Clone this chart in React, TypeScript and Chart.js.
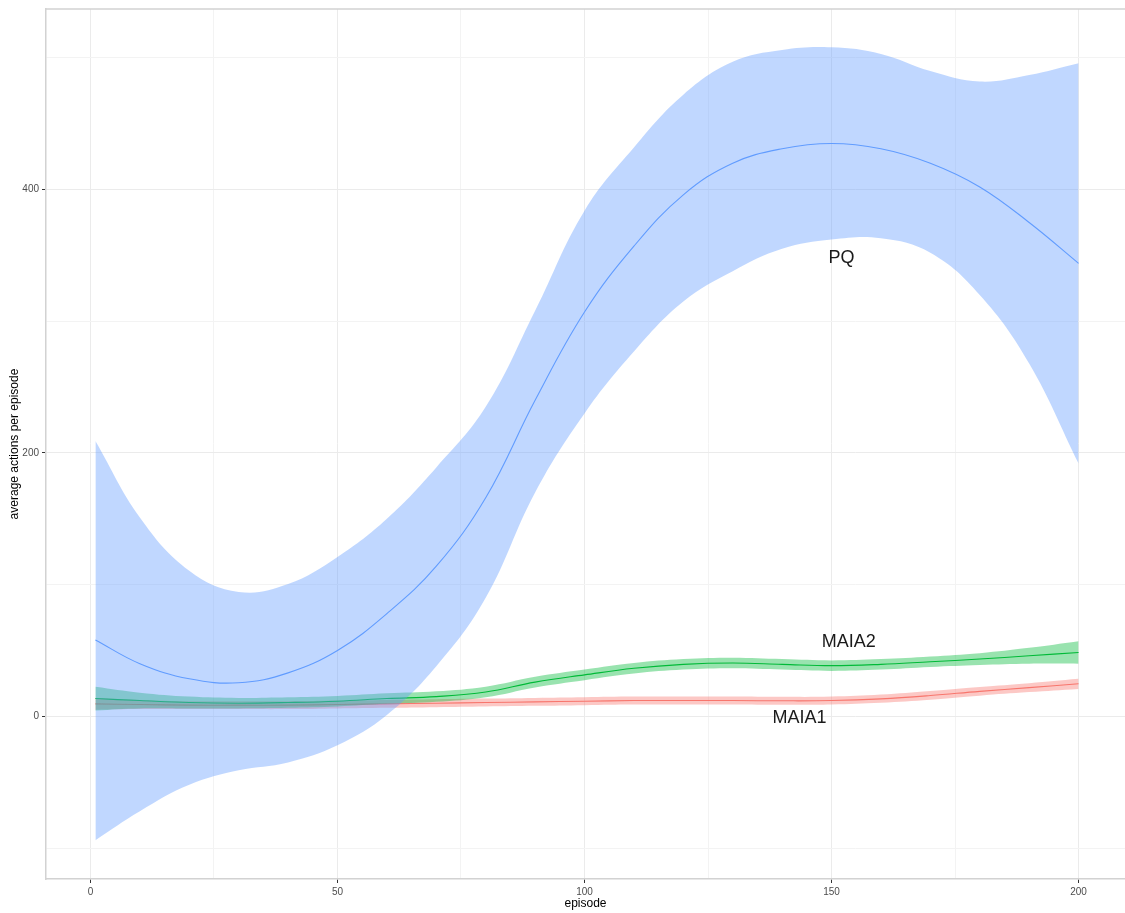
import React, { useEffect, useRef } from 'react';
import { Chart, registerables } from 'chart.js';

Chart.register(...registerables);

const episodes = [1, 10, 20, 30, 40, 50, 60, 70, 80, 90, 100, 110, 120, 130, 140, 150, 160, 170, 180, 190, 200];

const pqMean = [58, 40, 28.5, 25.5, 33, 50, 78, 114, 166, 240, 307, 357, 396, 420, 431, 435, 431, 420, 402, 375, 344];
const pqUpper = [209, 151, 110.5, 94.5, 100.5, 121, 150, 189, 235, 308, 384, 432, 472, 497, 506, 508, 503, 490, 482, 487, 496];
const pqLower = [-94, -72, -52, -41, -35, -22, 1, 38, 90, 170, 230, 277, 315, 338, 355, 362, 363, 352, 320, 268, 192];

const maia2Mean = [13.5, 12, 10.5, 10, 10.5, 11.5, 13.5, 15, 18.5, 26, 31.5, 36.5, 39.5, 40.5, 39.5, 38.5, 39.5, 41.5, 43.5, 46, 48.5];
const maia2Upper = [22.5, 18, 15, 14, 14.5, 15.5, 17.5, 19, 22.5, 30, 35.5, 40.5, 43.5, 44.5, 43.5, 42.5, 43.5, 45.5, 48, 52, 57];
const maia2Lower = [4.5, 6, 6, 6, 6.5, 7.5, 9.5, 11, 14.5, 22, 27.5, 32.5, 35.5, 36.5, 35.5, 34.5, 35.5, 37.5, 39, 40, 40];

const maia1Mean = [9.5, 9, 8.5, 8.5, 8.5, 9, 9.5, 10, 10.5, 11, 11.5, 12, 12, 12, 11.8, 12, 13.3, 15.8, 19, 21.8, 24.7];
const maia1Upper = [14, 12.5, 11.5, 11.5, 11.5, 12, 12.5, 13, 13.5, 14, 14.5, 15, 15, 15, 14.8, 15, 16.5, 19.2, 22.3, 25.2, 28.5];
const maia1Lower = [5, 5.5, 5.5, 5.5, 5.5, 6, 6.5, 7, 7.5, 8, 8.5, 9, 9, 9, 8.8, 9, 10.3, 12.6, 15.7, 18.4, 20.8];

const xGridValues = [0, 25, 50, 75, 100, 125, 150, 175, 200];
const xLabelledTicks = [0, 50, 100, 150, 200];
const yGridValues = [-100, 0, 100, 200, 300, 400, 500];
const yLabelledTicks = [0, 200, 400];

const seriesNames = ['MAIA1', 'MAIA2', 'PQ'];
const annotationTexts = ['PQ', 'MAIA2', 'MAIA1'];
const annotationX = [152, 153.5, 143.5];
const annotationY = [348, 56.5, -1.5];

const FONT = "'Liberation Sans', Arial, Helvetica, sans-serif";

function pts(ys: number[]) {
  return episodes.map((x, i) => ({ x, y: ys[i] }));
}

export default function App() {
  const canvasRef = useRef<HTMLCanvasElement | null>(null);

  useEffect(() => {
    if (!canvasRef.current) return;
    Chart.defaults.font.family = FONT;

    const series = [
      { name: seriesNames[0], color: '#F8766D', fill: 'rgba(248,118,109,0.4)', mean: maia1Mean, up: maia1Upper, lo: maia1Lower },
      { name: seriesNames[1], color: '#00BA38', fill: 'rgba(0,186,56,0.4)', mean: maia2Mean, up: maia2Upper, lo: maia2Lower },
      { name: seriesNames[2], color: '#619CFF', fill: 'rgba(97,156,255,0.4)', mean: pqMean, up: pqUpper, lo: pqLower },
    ];

    const datasets: any[] = [];
    let order = 100;
    series.forEach((s) => {
      datasets.push({
        label: s.name + ' upper',
        data: pts(s.up),
        borderWidth: 0,
        pointRadius: 0,
        backgroundColor: s.fill,
        fill: '+1',
        tension: 0.4,
        order: order--,
      });
      datasets.push({
        label: s.name + ' lower',
        data: pts(s.lo),
        borderWidth: 0,
        pointRadius: 0,
        fill: false,
        tension: 0.4,
        order: order--,
      });
      datasets.push({
        label: s.name,
        data: pts(s.mean),
        borderColor: s.color,
        borderWidth: 1.1,
        pointRadius: 0,
        fill: false,
        tension: 0.4,
        order: order--,
      });
    });

    const frameAndLabels = {
      id: 'frameAndLabels',
      afterDatasetsDraw(chart: any) {
        const { ctx, scales } = chart;
        ctx.save();
        ctx.fillStyle = '#1a1a1a';
        ctx.font = `18px ${FONT}`;
        ctx.textAlign = 'center';
        ctx.textBaseline = 'middle';
        annotationTexts.forEach((t, i) => {
          ctx.fillText(t, scales.x.getPixelForValue(annotationX[i]), scales.y.getPixelForValue(annotationY[i]));
        });
        ctx.restore();
      },
      afterDraw(chart: any) {
        const { ctx, chartArea } = chart;
        ctx.save();
        ctx.strokeStyle = '#D2D2D2';
        ctx.lineWidth = 1.5;
        ctx.beginPath();
        ctx.moveTo(chartArea.left, chartArea.top);
        ctx.lineTo(chartArea.right, chartArea.top);
        ctx.stroke();
        ctx.restore();
      },
    };

    const chart = new Chart(canvasRef.current, {
      type: 'line',
      data: { datasets },
      options: {
        animation: false,
        responsive: false,
        maintainAspectRatio: false,
        layout: { padding: { top: 7, right: 0, left: 0, bottom: 0 } },
        plugins: {
          legend: { display: false },
          tooltip: { enabled: false },
          filler: { propagate: false },
        },
        scales: {
          x: {
            type: 'linear',
            min: -9.0,
            max: 209.4,
            afterBuildTicks: (scale: any) => {
              scale.ticks = xGridValues.map((v) => ({ value: v }));
            },
            afterFit: (scale: any) => {
              scale.height = 34;
            },
            ticks: {
              autoSkip: false,
              maxRotation: 0,
              padding: 3,
              color: '#4D4D4D',
              font: { size: 10, family: FONT },
              callback: (v: any) => (xLabelledTicks.includes(Number(v)) ? String(v) : ''),
            },
            grid: {
              color: (c: any) => (c.tick && xLabelledTicks.includes(c.tick.value) ? '#EBEBEB' : '#F3F3F3'),
              lineWidth: 1,
              tickLength: 4,
              tickColor: (c: any) => (c.tick && xLabelledTicks.includes(c.tick.value) ? '#333333' : 'rgba(0,0,0,0)'),
            },
            border: { display: true, color: '#D2D2D2', width: 1.5 },
            title: {
              display: true,
              text: 'episode',
              color: '#000000',
              font: { size: 12, family: FONT },
              padding: { top: 0, bottom: 2 },
            },
          },
          y: {
            type: 'linear',
            min: -123.5,
            max: 537.1,
            afterBuildTicks: (scale: any) => {
              scale.ticks = yGridValues.map((v) => ({ value: v }));
            },
            afterFit: (scale: any) => {
              scale.width = 46;
            },
            ticks: {
              autoSkip: false,
              padding: 3,
              color: '#4D4D4D',
              font: { size: 10, family: FONT },
              callback: (v: any) => (yLabelledTicks.includes(Number(v)) ? String(v) : ''),
            },
            grid: {
              color: (c: any) => (c.tick && yLabelledTicks.includes(c.tick.value) ? '#EBEBEB' : '#F3F3F3'),
              lineWidth: 1,
              tickLength: 4,
              tickColor: (c: any) => (c.tick && yLabelledTicks.includes(c.tick.value) ? '#333333' : 'rgba(0,0,0,0)'),
            },
            border: { display: true, color: '#D2D2D2', width: 1.5 },
            title: {
              display: true,
              text: 'average actions per episode',
              color: '#000000',
              font: { size: 12, family: FONT },
              padding: { top: 7, bottom: 0 },
            },
          },
        },
      },
      plugins: [frameAndLabels],
    } as any);

    return () => chart.destroy();
  }, []);

  return (
    <div style={{ position: 'absolute', left: 0, top: 0, width: 1125, height: 913, background: '#ffffff' }}>
      <canvas ref={canvasRef} width={1125} height={913} style={{ width: 1125, height: 913, display: 'block' }} />
    </div>
  );
}
